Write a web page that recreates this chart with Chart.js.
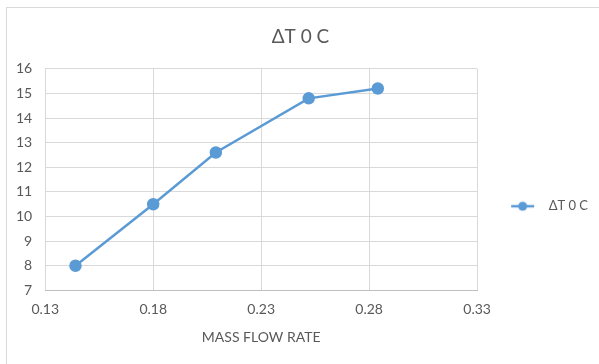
<!DOCTYPE html>
<html>
<head>
<meta charset="utf-8">
<script src="https://cdn.jsdelivr.net/npm/chart.js@4/dist/chart.umd.min.js"></script>
<style>
  body { margin: 0; background: #fff; }
  #frame { position: absolute; left: 6px; top: 7px; width: 600px; height: 370px; border: 1px solid #d9d9d9; }
  #wrap { position: absolute; left: 0; top: 0; width: 599px; height: 364px; }
</style>
</head>
<body>
<div id="frame"></div>
<div id="wrap"><canvas id="chart"></canvas></div>
<script>
// data
const seriesName = 'ΔT 0 C';
const massFlow = [0.144, 0.18, 0.209, 0.252, 0.284];
const deltaT = [8, 10.5, 12.6, 14.8, 15.2];
const xTicks = [0.13, 0.18, 0.23, 0.28, 0.33];
const yTicks = [7, 8, 9, 10, 11, 12, 13, 14, 15, 16];

const blue = '#5b9bd5';
const textGrey = '#595959';
const gridGrey = '#d9d9d9';
const fontFam = 'Lato, "Open Sans", sans-serif';

// legend marker: line with dot like excel, left part left blank on purpose
// so the legend box pushes the plot area over
const marker = document.createElement('canvas');
marker.width = 55; marker.height = 12;
const mctx = marker.getContext('2d');
mctx.strokeStyle = blue; mctx.lineWidth = 2.5;
mctx.beginPath(); mctx.moveTo(24, 6); mctx.lineTo(47, 6); mctx.stroke();
mctx.fillStyle = blue;
mctx.beginPath(); mctx.arc(35.5, 6, 4.5, 0, Math.PI * 2); mctx.fill();

new Chart(document.getElementById('chart'), {
  type: 'scatter',
  data: {
    datasets: [{
      label: seriesName,
      data: massFlow.map((x, i) => ({ x: x, y: deltaT[i] })),
      showLine: true,
      borderColor: blue,
      backgroundColor: blue,
      borderWidth: 2.5,
      pointRadius: 5,
      pointHoverRadius: 5,
      tension: 0
    }]
  },
  options: {
    responsive: true,
    maintainAspectRatio: false,
    animation: false,
    layout: { padding: { left: 3, right: 1, top: 10, bottom: 14 } },
    plugins: {
      title: {
        display: true,
        text: seriesName,
        color: textGrey,
        font: { family: fontFam, size: 19, weight: 'normal' },
        padding: { top: 15, bottom: 21 }
      },
      legend: {
        position: 'right',
        title: { display: true, text: '', padding: { top: 38, bottom: 0 }, font: { size: 12 } },
        labels: {
          usePointStyle: true,
          pointStyle: marker,
          pointStyleWidth: 55,
          color: textGrey,
          padding: 10,
          font: { family: fontFam, size: 13 }
        }
      },
      tooltip: { enabled: false }
    },
    scales: {
      x: {
        type: 'linear',
        min: 0.13,
        max: 0.33,
        afterBuildTicks: s => { s.ticks = xTicks.map(v => ({ value: v })); },
        ticks: {
          color: textGrey,
          font: { family: fontFam, size: 14 },
          padding: 11,
          callback: v => v.toFixed(2)
        },
        grid: { color: gridGrey, drawTicks: false },
        border: { color: '#bfbfbf' },
        title: {
          display: true,
          text: 'MASS FLOW RATE',
          color: textGrey,
          font: { family: fontFam, size: 14 },
          padding: { top: 0 }
        }
      },
      y: {
        min: 7,
        max: 16,
        afterBuildTicks: s => { s.ticks = yTicks.map(v => ({ value: v })); },
        ticks: {
          color: textGrey,
          font: { family: fontFam, size: 14 },
          padding: 13
        },
        grid: { color: gridGrey, drawTicks: false },
        border: { display: false }
      }
    }
  }
});
</script>
</body>
</html>
